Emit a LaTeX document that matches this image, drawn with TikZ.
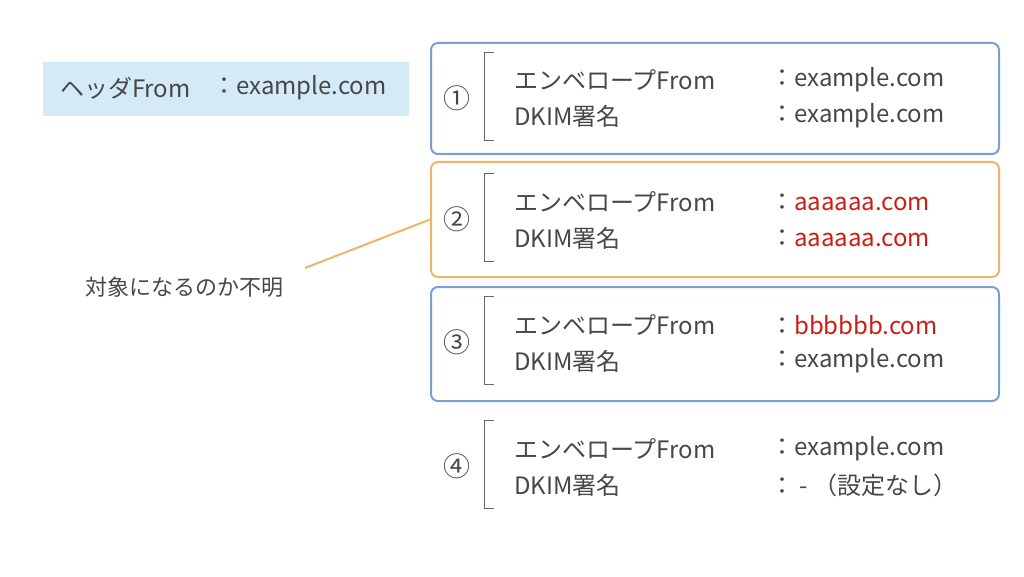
\documentclass[tikz,border=0pt]{standalone}
\usepackage{fontspec}
\setmainfont{Noto Sans CJK JP}
\begin{document}
\begin{tikzpicture}[x=1pt,y=-1pt,
  txt/.style={anchor=west,text=black!72,font=\fontsize{24}{28}\selectfont,inner sep=0pt},
  bluebox/.style={draw={rgb,255:red,120;green,160;blue,215},line width=2pt,rounded corners=7pt},
  orbox/.style={draw={rgb,255:red,238;green,180;blue,110},line width=2pt,rounded corners=7pt},
  brk/.style={draw=black!60,line width=0.8pt}]
\useasboundingbox (0,0) rectangle (1024,577);
\node[fill={rgb,255:red,212;green,234;blue,248},minimum width=366pt,minimum height=54pt,anchor=north west,inner sep=0pt] (hdr) at (43,62) {};
\node[txt] (h1) at (60,88) {ヘッダFrom};
\node[txt] (h2) at (212,88) {：example.com};
\node[bluebox,minimum width=568pt,minimum height=111pt,anchor=north west] (b1) at (430,42) {};
\node[orbox,minimum width=568pt,minimum height=115pt,anchor=north west] (b2) at (430,161) {};
\node[bluebox,minimum width=568pt,minimum height=114pt,anchor=north west] (b3) at (430,286) {};
\foreach \i/\y/\c in {1/98/①,2/219/②,3/342/③,4/466/④}{
  \node[txt,font=\fontsize{27}{30}\selectfont] (n\i) at (443,\y) {\c};
  \draw[brk] (494,\y-46) -- (484,\y-46) -- (484,\y+42) -- (494,\y+42);
}
\foreach \i/\y in {1/80,2/202,3/325,4/449}{
  \node[txt] (e\i) at (514,\y) {エンベロープFrom};
  \node[txt] (d\i) at (514,\y+36) {DKIM署名};
}
\node[txt] (c1) at (770,80) {：example.com};
\node[txt] (c2) at (770,116) {：example.com};
\node[txt] (c3) at (770,202) {：\textcolor[RGB]{200,30,20}{aaaaaa.com}};
\node[txt] (c4) at (770,238) {：\textcolor[RGB]{200,30,20}{aaaaaa.com}};
\node[txt] (c5) at (770,325) {：\textcolor[RGB]{200,30,20}{bbbbbb.com}};
\node[txt] (c6) at (770,361) {：example.com};
\node[txt] (c7) at (770,449) {：example.com};
\node[txt] (c8) at (770,485) {：\ -\ （設定なし）};
\node[txt,font=\fontsize{22}{26}\selectfont] (lbl) at (85,287) {対象になるのか不明};
\coordinate (lend) at (305,268);
\draw[draw={rgb,255:red,238;green,180;blue,110},line width=2pt] (lend) -- (b2.west);
\end{tikzpicture}
\end{document}
